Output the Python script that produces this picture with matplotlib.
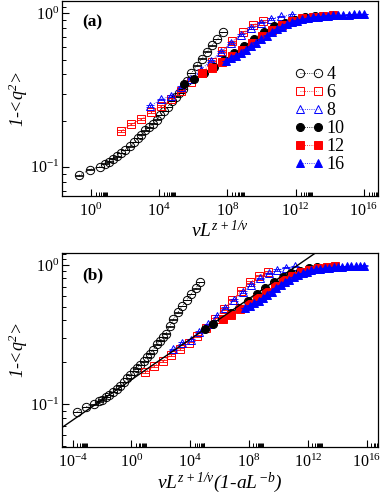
import numpy as np
import matplotlib
matplotlib.use("Agg")
import matplotlib.pyplot as plt
from matplotlib.ticker import FixedLocator, FuncFormatter, NullFormatter

plt.rcParams['font.family'] = 'serif'
plt.rcParams['font.serif'] = ['Liberation Serif', 'DejaVu Serif']
plt.rcParams['mathtext.fontset'] = 'custom'
plt.rcParams['mathtext.it'] = 'Liberation Serif:italic'
plt.rcParams['mathtext.rm'] = 'Liberation Serif:italic'

# sizes L
sizes = [4, 6, 8, 10, 12, 16]

# panel (a): log10 of v L^{z+1/nu}, and 1-<q^2>
lx4 = [-0.67, -0.06, 0.53, 0.82, 1.05, 1.29, 1.52, 1.76, 2.03, 2.28, 2.55, 2.77,
       2.97, 3.20, 3.43, 3.63, 3.87, 4.08, 4.28, 4.51, 4.76, 5.00, 5.19, 5.39,
       5.64, 5.90, 6.20, 6.50, 6.80, 7.10, 7.42, 7.73]
y4 = [0.088, 0.096, 0.100, 0.105, 0.108, 0.113, 0.117, 0.123, 0.129, 0.136, 0.145, 0.154,
      0.162, 0.173, 0.181, 0.191, 0.203, 0.218, 0.231, 0.246, 0.269, 0.286, 0.303, 0.322,
      0.363, 0.407, 0.457, 0.506, 0.562, 0.618, 0.679, 0.755]

lx6 = [1.77, 2.38, 2.96, 3.55, 4.13, 4.72, 5.31, 5.90, 6.50, 7.10, 7.70, 8.30, 8.90, 9.50, 10.10]
y6 = [0.171, 0.189, 0.205, 0.226, 0.248, 0.275, 0.31, 0.355, 0.41, 0.48, 0.565, 0.655, 0.75, 0.84, 0.895]

lx8 = [3.49, 4.10, 4.68, 5.27, 5.86, 6.45, 7.04, 7.63, 8.22, 8.81, 9.40, 9.99, 10.58, 11.17, 11.76]
y8 = [0.248, 0.275, 0.289, 0.33, 0.375, 0.43, 0.49, 0.56, 0.64, 0.72, 0.80, 0.87, 0.92, 0.955, 0.975]

lx10 = [5.45, 6.04, 6.63, 7.22, 7.81, 8.40, 8.99, 9.58, 10.17, 10.76, 11.35, 11.94, 12.53, 13.12]
y10 = [0.346, 0.375, 0.41, 0.45, 0.495, 0.55, 0.615, 0.685, 0.76, 0.825, 0.87, 0.91, 0.945, 0.965]

lx12 = [6.50, 7.09, 7.68, 8.27, 8.86, 9.45, 10.04, 10.63, 11.22, 11.81, 12.40, 12.99, 13.58, 14.17]
y12 = [0.41, 0.44, 0.48, 0.525, 0.58, 0.64, 0.71, 0.78, 0.84, 0.89, 0.925, 0.95, 0.965, 0.975]

lx16 = [7.9, 8.2, 8.5, 8.8, 9.1, 9.4, 9.7, 10.0, 10.3, 10.6, 10.9, 11.2, 11.5, 11.8,
        12.1, 12.4, 12.7, 13.0, 13.3, 13.6, 13.9, 14.2, 14.5, 14.8, 15.1, 15.4, 15.7, 16.0]
y16 = [0.49, 0.51, 0.53, 0.55, 0.58, 0.61, 0.645, 0.68, 0.715, 0.75, 0.785, 0.82, 0.85, 0.875,
       0.895, 0.915, 0.93, 0.94, 0.95, 0.957, 0.963, 0.968, 0.972, 0.976, 0.979, 0.982, 0.985, 0.988]

# panel (b): shift in decades from the factor (1-aL^-b), per L
shift_b = [-3.05, -0.83, -0.65, -0.47, -0.30, -0.15]

# relative error bars (tiny)
rel_err = [0.004, 0.015, 0.012, 0.005, 0.006, 0.005]

# power law line in panel (b)
fit_x = [1.26e-5, 4.0e12]
fit_y = [0.0663, 1.236]

lx_all = [lx4, lx6, lx8, lx10, lx12, lx16]
y_all = [y4, y6, y8, y10, y12, y16]
colors = ['black', 'red', 'blue', 'black', 'red', 'blue']
markers = ['o', 's', '^', 'o', 's', '^']
filled = [False, False, False, True, True, True]
msizes = [6.0, 5.4, 6.2, 5.8, 5.2, 6.0]


def draw(ax, shifted):
    for i, L in enumerate(sizes):
        lx = np.array(lx_all[i])
        if shifted:
            lx = lx + shift_b[i]
        x = 10.0 ** lx
        y = np.array(y_all[i])
        c = colors[i]
        mfc = c if filled[i] else 'none'
        ax.errorbar(x, y, yerr=y * rel_err[i], fmt='none', ecolor=c,
                    elinewidth=0.6, capsize=2.6, capthick=0.6, zorder=2 + i)
        ax.plot(x, y, ls=':', lw=0.6, color=c, marker=markers[i], ms=msizes[i],
                mfc=mfc, mec=c, mew=0.7, label=str(L), zorder=3 + i)


def style(ax, xlim, ylim, majors):
    ax.set_xscale('log')
    ax.set_yscale('log')
    ax.set_xlim(*xlim)
    ax.set_ylim(*ylim)
    ax.xaxis.set_major_locator(FixedLocator([10.0 ** k for k in majors]))
    ax.xaxis.set_minor_locator(FixedLocator([m * 10.0 ** k for k in majors for m in range(2, 10)]))
    ax.yaxis.set_major_locator(FixedLocator([0.1, 1.0]))
    ax.yaxis.set_minor_locator(FixedLocator([m * 0.01 for m in range(2, 10)] +
                                            [m * 0.1 for m in range(2, 10)] + [1.1, 1.2]))
    fmt = FuncFormatter(lambda v, p: r'$\mathregular{10^{%d}}$' % int(round(np.log10(v))))
    ax.xaxis.set_major_formatter(fmt)
    ax.yaxis.set_major_formatter(fmt)
    ax.xaxis.set_minor_formatter(NullFormatter())
    ax.yaxis.set_minor_formatter(NullFormatter())
    ax.tick_params(which='both', direction='in', top=False, right=False, labelsize=11.5)
    ax.tick_params(which='major', length=5, width=0.8)
    ax.tick_params(axis='x', which='major', pad=5)
    ax.tick_params(axis='y', which='major', pad=2)
    ax.tick_params(which='minor', length=3, width=0.7)
    for s in ax.spines.values():
        s.set_linewidth(0.9)
    ax.set_ylabel('1-<' + r'$q^{2}$' + '>', fontstyle='italic', fontsize=13)
    ax.yaxis.set_label_coords(-0.10, 0.5)


fig = plt.figure(figsize=(3.82, 5.0), dpi=100)
ax1 = fig.add_axes([0.1623, 0.608, 0.827, 0.39])
ax2 = fig.add_axes([0.1623, 0.1066, 0.827, 0.388])

draw(ax1, False)
style(ax1, (10 ** -1.68, 10 ** 16.82), (10 ** -1.19, 10 ** 0.08), [0, 4, 8, 12, 16])
ax1.set_xlabel(r'$vL^{z+1/\nu}$', fontsize=14, labelpad=0)
ax1.text(0.095, 0.89, '(a)', transform=ax1.transAxes, fontsize=12.5, fontweight='bold',
         ha='center', va='center')
ax1.legend(loc='upper left', bbox_to_anchor=(0.735, 0.665), frameon=False, numpoints=2,
           fontsize=13, handlelength=1.6, handletextpad=0.2, labelspacing=0.05,
           borderaxespad=0, borderpad=0)

draw(ax2, True)
ax2.plot(fit_x, fit_y, color='black', lw=1.0, zorder=10)
style(ax2, (10 ** -4.73, 10 ** 16.77), (10 ** -1.304, 10 ** 0.088), [-4, 0, 4, 8, 12, 16])
ax2.set_xlabel(r'$vL^{z+1/\nu}$' + '(1-a' + r'$L^{-b}$' + ')', fontstyle='italic',
               fontsize=14, labelpad=0)
ax2.text(0.098, 0.885, '(b)', transform=ax2.transAxes, fontsize=12.5, fontweight='bold',
         ha='center', va='center')

fig.savefig('out.png', dpi=100)
